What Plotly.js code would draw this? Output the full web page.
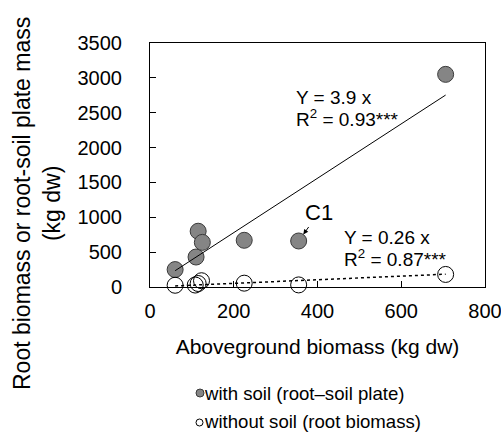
<!DOCTYPE html>
<html>
<head>
<meta charset="utf-8">
<script src="https://cdn.plot.ly/plotly-3.0.1.min.js"></script>
<style>html,body{margin:0;padding:0;background:#fff;}#chart{width:501px;height:433px;}</style>
</head>
<body>
<div id="chart"></div>
<script>
// Data
const withSoilX = [60, 110, 115, 125, 225, 355, 706];
const withSoilY = [250, 430, 800, 640, 670, 660, 3050];
const withoutSoilX = [60, 108, 115, 123, 225, 355, 706];
const withoutSoilY = [25, 28, 50, 90, 55, 30, 180];
const fitX = [60, 706];
const slopeWith = 3.9;
const slopeWithout = 0.26;
const xTicks = [0, 200, 400, 600, 800];
const yTicks = [0, 500, 1000, 1500, 2000, 2500, 3000, 3500];
const legendLabels = ["with soil (root\u2013soil plate)", "without soil (root biomass)"];

const FONT = "Arial, 'Liberation Sans', sans-serif";
const W = 501, H = 433;
const L = 150, R = 485, T = 43, B = 287;
const px = x => (x - L) / (R - L);
const py = y => (B - y) / (B - T);

const traces = [
  {x: withSoilX, y: withSoilY, mode: 'markers', type: 'scatter', cliponaxis: false, showlegend: false,
   marker: {size: 16, color: '#858585', line: {color: '#3a3a3a', width: 1}}},
  {x: withoutSoilX, y: withoutSoilY, mode: 'markers', type: 'scatter', cliponaxis: false, showlegend: false,
   marker: {size: 16, color: 'rgba(0,0,0,0)', line: {color: '#000', width: 1}}},
  {x: fitX, y: fitX.map(v => v * slopeWith), mode: 'lines', type: 'scatter', showlegend: false,
   line: {color: '#000', width: 1}},
  {x: fitX, y: fitX.map(v => v * slopeWithout), mode: 'lines', type: 'scatter', showlegend: false,
   line: {color: '#000', width: 1.5, dash: 'dot'}}
];

const layout = {
  width: W, height: H,
  margin: {l: L, r: W - R, t: T, b: H - B, pad: 0},
  paper_bgcolor: '#fff', plot_bgcolor: '#fff',
  font: {family: FONT, color: '#000', size: 20},
  showlegend: false,
  xaxis: {
    range: [0, 800], tickvals: xTicks, ticktext: xTicks.map(String),
    showgrid: false, zeroline: false, showline: true, mirror: true, linecolor: '#000', linewidth: 1,
    ticks: 'inside', ticklen: 6, tickcolor: '#000', ticklabelstandoff: 6, ticklabeloverflow: 'allow',
    tickfont: {size: 20, family: FONT},
    title: {text: 'Aboveground biomass (kg dw)', font: {size: 21, family: FONT}, standoff: 18}
  },
  yaxis: {
    range: [0, 3500], tickvals: yTicks, ticktext: yTicks.map(String),
    showgrid: false, zeroline: false, showline: true, mirror: true, linecolor: '#000', linewidth: 1,
    ticks: 'inside', ticklen: 6, tickcolor: '#000', ticklabelstandoff: 23, ticklabeloverflow: 'allow',
    tickfont: {size: 20, family: FONT}
  },
  annotations: [
    {xref: 'paper', yref: 'paper', x: px(37), y: py(204), xanchor: 'center', yanchor: 'middle',
     text: 'Root biomass or root-soil plate mass<br>(kg dw)', textangle: -90, showarrow: false,
     font: {size: 23, family: FONT}},
    {xref: 'paper', yref: 'paper', x: px(294), y: py(97.5), xanchor: 'left', yanchor: 'middle',
     text: 'Y = 3.9 x', showarrow: false, font: {size: 19, family: FONT}},
    {xref: 'paper', yref: 'paper', x: px(294), y: py(118), xanchor: 'left', yanchor: 'middle',
     text: 'R<sup>2</sup> = 0.93***', showarrow: false, font: {size: 19, family: FONT}},
    {xref: 'paper', yref: 'paper', x: px(342), y: py(237.5), xanchor: 'left', yanchor: 'middle',
     text: 'Y = 0.26 x', showarrow: false, font: {size: 19, family: FONT}},
    {xref: 'paper', yref: 'paper', x: px(342), y: py(258), xanchor: 'left', yanchor: 'middle',
     text: 'R<sup>2</sup> = 0.87***', showarrow: false, font: {size: 19, family: FONT}},
    {x: withSoilX[5], y: withSoilY[5], xref: 'x', yref: 'y', text: 'C1', showarrow: true,
     ax: 20, ay: -28, arrowhead: 2, arrowsize: 1, arrowwidth: 1, arrowcolor: '#000', standoff: 8,
     font: {size: 22, family: FONT}},
    {xref: 'paper', yref: 'paper', x: px(202), y: py(393), xanchor: 'left', yanchor: 'middle',
     text: legendLabels[0], showarrow: false, font: {size: 18.6, family: FONT}},
    {xref: 'paper', yref: 'paper', x: px(202), y: py(421), xanchor: 'left', yanchor: 'middle',
     text: legendLabels[1], showarrow: false, font: {size: 18.6, family: FONT}}
  ],
  shapes: [
    {type: 'circle', xref: 'paper', yref: 'paper', x0: px(196), x1: px(204), y0: py(389), y1: py(397),
     fillcolor: '#858585', line: {color: '#3a3a3a', width: 1}},
    {type: 'circle', xref: 'paper', yref: 'paper', x0: px(196), x1: px(203), y0: py(419), y1: py(426),
     fillcolor: '#fff', line: {color: '#000', width: 1}}
  ]
};

Plotly.newPlot('chart', traces, layout, {displayModeBar: false, staticPlot: true});
</script>
</body>
</html>
